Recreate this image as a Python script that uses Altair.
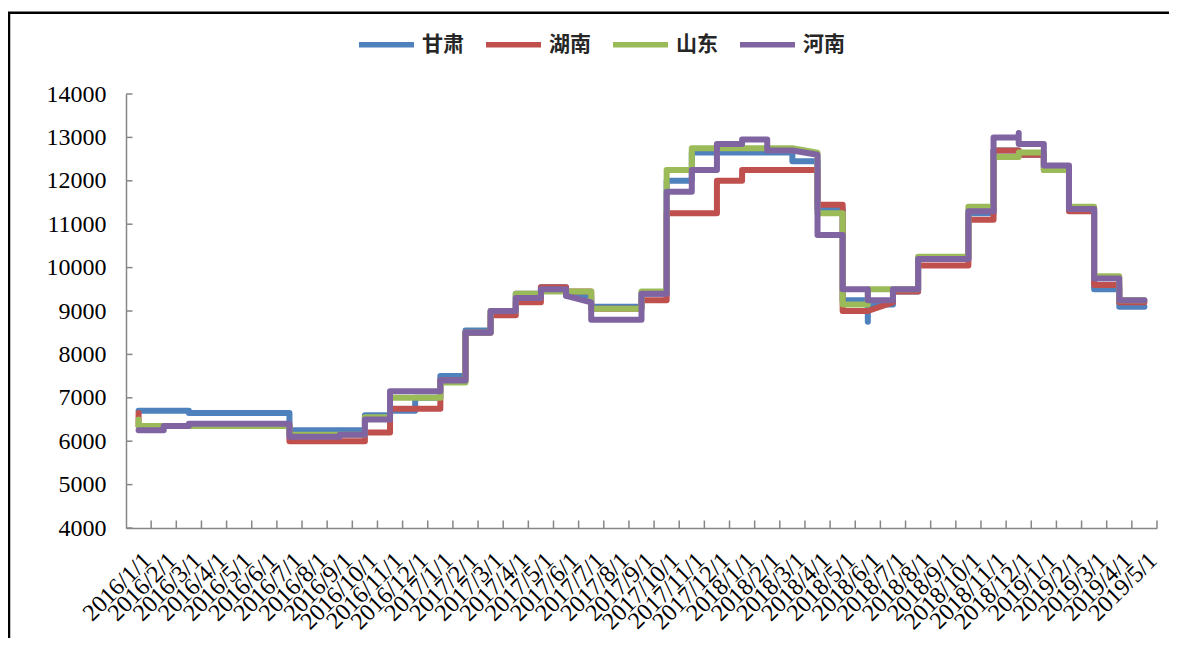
import altair as alt
import pandas as pd

# ---------------- data ----------------
month_labels = [f"{2016 + i // 12}/{i % 12 + 1}/1" for i in range(41)]   # 2016/1/1 ... 2019/5/1
y_ticks = [4000, 5000, 6000, 7000, 8000, 9000, 10000, 11000, 12000, 13000, 14000]

series_names = ["甘肃", "湖南", "山东", "河南"]
series_colors = ["#4F81BD", "#C0504D", "#9BBB59", "#8064A2"]

# month index (0 = 2016/1) and the prices recorded within that month, in order
gansu_m = [0, 2, 6, 9, 10, 11, 12, 13, 14, 15, 16, 17, 18, 20, 21, 22, 26, 27, 28, 29,
           30, 31, 33, 34, 35, 36, 37, 38, 39, 40]
gansu_v = [[6700], [6700, 6650], [6650, 6250], [6250, 6600], [6600, 6700], [6700, 7000],
           [7000, 7500], [7500, 8550], [8550, 9000], [9000, 9400], [9400, 9550], [9550, 9350],
           [9350, 9100], [9100, 9400], [9400, 12000], [12000, 12650], [12650, 12450],
           [12450, 11350], [11350, 9250], [9250, 8750, 9150], [9150, 9450], [9450, 10200],
           [10200, 11250], [11250, 12700], [12700, 12600], [12600, 12300], [12300, 11350],
           [11350, 9500], [9500, 9100], [9100]]

hunan_m = [0, 6, 9, 10, 12, 13, 14, 15, 16, 17, 18, 20, 21, 23, 24, 27, 28, 29, 30, 31, 33,
           34, 35, 36, 37, 38, 39, 40]
hunan_v = [[6650, 6350], [6350, 6000], [6000, 6200], [6200, 6750], [6750, 7400], [7400, 8500],
           [8500, 8900], [8900, 9200], [9200, 9550], [9550, 9450], [9450, 9050], [9050, 9250],
           [9250, 11250], [11250, 12000], [12000, 12250], [12250, 11450], [11450, 9000], [9000],
           [9200, 9450], [9450, 10050], [10050, 11100], [11100, 12700], [12700, 12600],
           [12600, 12250], [12250, 11300], [11300, 9600], [9600, 9200], [9200]]

shandong_m = [0, 6, 9, 10, 12, 13, 14, 15, 16, 18, 20, 21, 22, 26, 27, 28, 29, 31, 33, 34,
              35, 36, 37, 38, 39, 40]
shandong_v = [[6500, 6350], [6350, 6150], [6150, 6550], [6550, 7000], [7000, 7350], [7350, 8500],
              [8500, 9000], [9000, 9400], [9400, 9450], [9450, 9050], [9050, 9450],
              [9450, 12250], [12250, 12750], [12750], [12650, 11250], [11250, 9150],
              [9150, 9500], [9500, 10250], [10250, 11400], [11400, 12550], [12550, 12650],
              [12650, 12250], [12250, 11400], [11400, 9800], [9800, 9250], [9250]]

henan_m = [0, 1, 2, 6, 8, 9, 10, 12, 13, 14, 15, 16, 17, 18, 20, 21, 22, 23, 24, 25, 26, 27,
           28, 29, 30, 31, 33, 34, 35, 36, 37, 38, 39, 40]
henan_v = [[6250], [6250, 6350], [6350, 6400], [6400, 6100], [6100, 6150], [6150, 6500],
           [6500, 7150], [7150, 7400], [7400, 8500], [8500, 9000], [9000, 9300], [9300, 9500],
           [9500, 9350], [9200, 8800], [8800, 9400], [9400, 11750], [11750, 12250],
           [12250, 12850], [12850, 12950], [12950, 12700], [12700], [12600, 10750],
           [10750, 9500], [9500, 9250], [9250, 9500], [9500, 10200], [10200, 11300],
           [11300, 13000], [13000, 13100, 12850], [12850, 12350], [12350, 11350],
           [11350, 9750], [9750, 9250], [9250]]

series_data = {"甘肃": (gansu_m, gansu_v), "湖南": (hunan_m, hunan_v),
               "山东": (shandong_m, shandong_v), "河南": (henan_m, henan_v)}

rows = []
for name, (ms, vs) in series_data.items():
    seq = 0
    for m, vals in zip(ms, vs):
        for v in vals:
            rows.append({"series": name, "m": m, "v": v, "seq": seq})
            seq += 1
df = pd.DataFrame(rows)

W, H = 1031, 434
AXIS_COLOR = "#868686"
NUM_FONT = "Liberation Serif"

label_expr = "[" + ",".join(f"'{s}'" for s in month_labels) + "][datum.value]"

x_enc = alt.X("m:Q",
              scale=alt.Scale(domain=[-0.5, 40.5], nice=False, zero=False),
              axis=alt.Axis(values=list(range(41)), labelExpr=label_expr, labelAngle=-45,
                            labelAlign="right", labelBaseline="top", labelPadding=20,
                            labelOffset=0, labelFont=NUM_FONT, labelFontSize=24,
                            labelColor="#000000", labelOverlap=False, labelFlush=False,
                            labelBound=False, ticks=False, grid=False,
                            domainColor=AXIS_COLOR, domainWidth=1.5, title=None))
y_enc = alt.Y("v:Q",
              scale=alt.Scale(domain=[4000, 14000], nice=False, zero=False),
              axis=alt.Axis(values=y_ticks, format="d", labelFont=NUM_FONT, labelFontSize=24,
                            labelColor="#000000", labelPadding=20, labelFlush=False,
                            ticks=False, grid=False, domainColor=AXIS_COLOR,
                            domainWidth=1.5, title=None))

legend = alt.Legend(orient="none", legendX=230, legendY=-80, direction="horizontal",
                    title=None, symbolType="stroke", symbolSize=3025,
                    symbolStrokeWidth=5.5, labelFont="Noto Sans CJK SC", labelFontSize=21,
                    labelFontWeight="bold", labelColor="#262626", labelOffset=5,
                    columnPadding=11, padding=0, labelLimit=200)
color_enc = alt.Color("series:N",
                      scale=alt.Scale(domain=series_names, range=series_colors),
                      legend=legend)

base = alt.Chart(df)
line_layers = [
    base.transform_filter(alt.datum.series == name)
    .mark_line(strokeWidth=6, strokeCap="round", strokeJoin="round")
    .encode(x=x_enc, y=y_enc, color=color_enc, order=alt.Order("seq:Q"))
    for name in series_names
]

ytick_df = pd.DataFrame({"v": y_ticks})
xtick_df = pd.DataFrame({"m": [k - 0.5 for k in range(1, 42)]})

yticks = alt.Chart(ytick_df).mark_rule(color=AXIS_COLOR, strokeWidth=1.5).encode(
    y=y_enc, x=alt.value(0), x2=alt.value(6.5))
xticks = alt.Chart(xtick_df).mark_rule(color=AXIS_COLOR, strokeWidth=1.5).encode(
    x=x_enc, y=alt.value(H), y2=alt.value(H - 7.5))

frame = alt.Chart(pd.DataFrame({"a": [0]})).mark_rect(
    filled=False, color="#000000", strokeWidth=2.5).encode(
    x=alt.value(-117), x2=alt.value(W + 300), y=alt.value(-81.3), y2=alt.value(H + 300))

chart = alt.layer(frame, yticks, xticks, *line_layers).properties(
    width=W, height=H,
    autosize=alt.AutoSizeParams(type="none"),
    padding={"left": 118, "top": 86, "right": 12, "bottom": 110},
    background="white",
).configure_view(strokeWidth=0)

chart.save("out.html", embed_options={"renderer": "svg", "actions": False})
